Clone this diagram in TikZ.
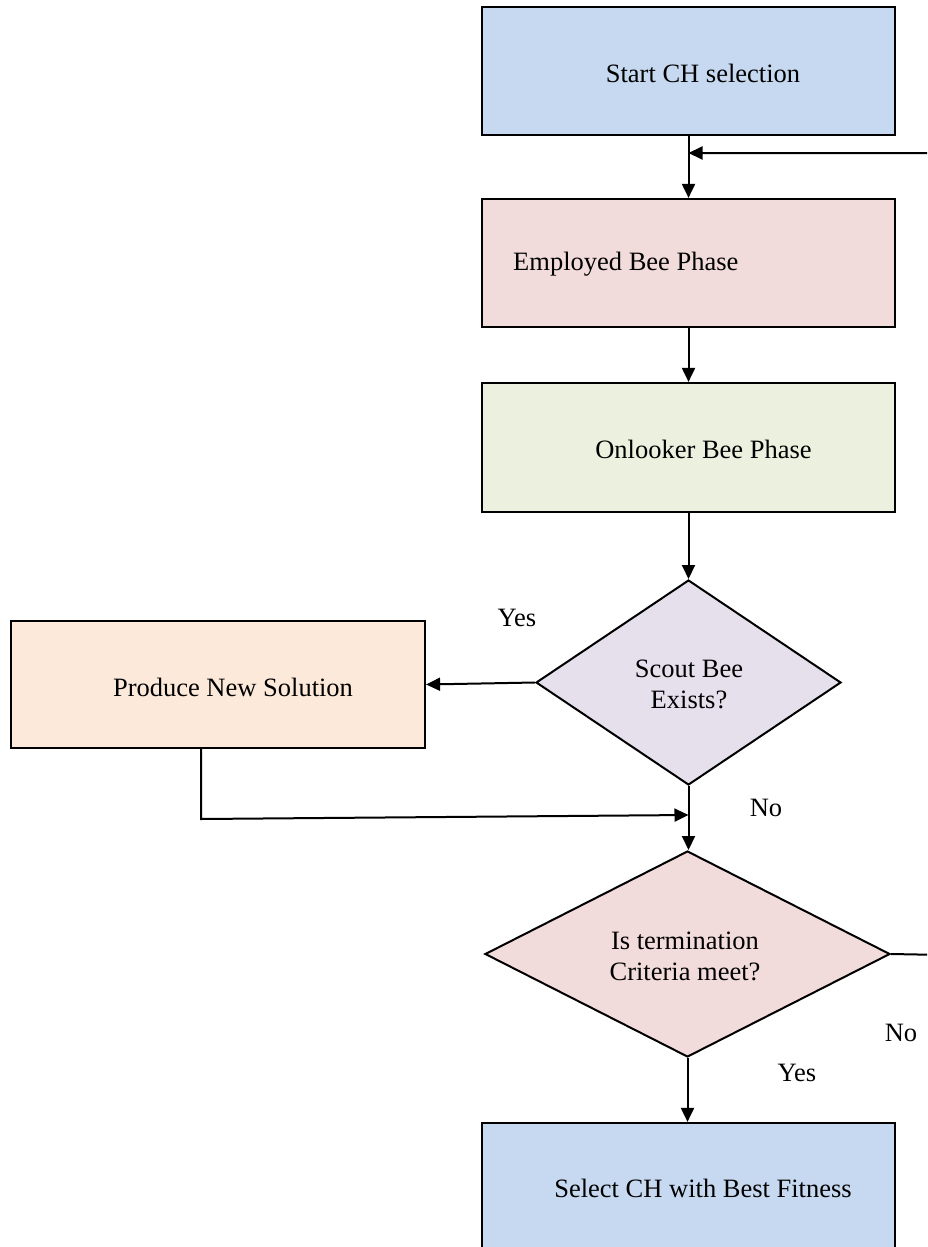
\documentclass[tikz,border=0pt]{standalone}
\usepackage{fontspec}
\setmainfont{Liberation Serif}
\usetikzlibrary{arrows.meta,shapes.geometric}
\definecolor{cblue}{HTML}{C6D9F0}
\definecolor{cred}{HTML}{F2DCDB}
\definecolor{cgreen}{HTML}{EBF1DE}
\definecolor{cpurple}{HTML}{E5E0EC}
\definecolor{corange}{HTML}{FDE9D9}
\tikzset{
  box/.style={draw=black, line width=2.2pt, rectangle, minimum width=413pt, minimum height=128pt, inner sep=0pt},
  dia/.style={draw=black, line width=2pt, diamond, inner sep=0pt},
  txt/.style={font=\fontsize{26.5pt}{31pt}\selectfont, inner sep=0pt, align=center},
  conn/.style={line width=2pt, draw=black},
  arr/.style={conn, -{Triangle[length=14pt,width=13pt]}},
}
\begin{document}
\begin{tikzpicture}[x=1pt,y=-1pt]
\useasboundingbox (0,0) rectangle (927,1247);
\clip (0,0) rectangle (927,1247);
\fill[white] (0,0) rectangle (927,1247);
% boxes
\node[box, fill=cblue] (start) at (688.5,71) {};
\node[box, fill=cred] (emp) at (688.5,263) {};
\node[box, fill=cgreen, minimum height=129pt] (onl) at (688.5,447.5) {};
\node[dia, fill=cpurple, minimum width=305pt, minimum height=205pt] (scout) at (688.5,682.5) {};
\node[box, fill=corange, minimum width=414pt, minimum height=127pt] (prod) at (218,684.5) {};
\node[dia, fill=cred, minimum width=405pt, minimum height=206pt] (term) at (687.5,954) {};
\node[box, fill=cblue] (sel) at (688.5,1187) {};
% texts
\node[txt] (startT) at (703,73) {Start CH selection};
\node[txt, anchor=west] (empT) at (513,264) {Employed Bee Phase};
\node[txt] (onlT) at (703.5,449) {Onlooker Bee Phase};
\node[txt] (scoutT) at (689,684) {Scout Bee\\Exists?};
\node[txt] (prodT) at (233,687) {Produce New Solution};
\node[txt] (termT) at (685,956) {Is termination\\Criteria meet?};
\node[txt] (selT) at (703,1188) {Select CH with Best Fitness};
% labels
\node[txt] (yes1) at (517,618) {Yes};
\node[txt] (no1) at (766,808) {No};
\node[txt] (no2) at (901,1033) {No};
\node[txt] (yes2) at (797,1073) {Yes};
% coordinates
\coordinate (fb) at (688.5,153);
\coordinate (fbR) at (945,153);
\coordinate (tR) at (945,955);
\coordinate (mid) at (688.5,815);
\coordinate (pb) at (201,748);
\coordinate (pl) at (201,819);
% connectors
\draw[arr] (start.south) -- (emp.north);
\draw[arr] (term.east) -- (tR) -- (fbR) -- (fb);
\draw[arr] (emp.south) -- (onl.north);
\draw[arr] (onl.south) -- (scout.north);
\draw[arr] (scout.west) -- (prod.east);
\draw[arr] (scout.south) -- (scout.south |- term.north);
\draw[arr] (pb) -- (pl) -- (mid);
\draw[arr] (term.south) -- (term.south |- sel.north);
\end{tikzpicture}
\end{document}
